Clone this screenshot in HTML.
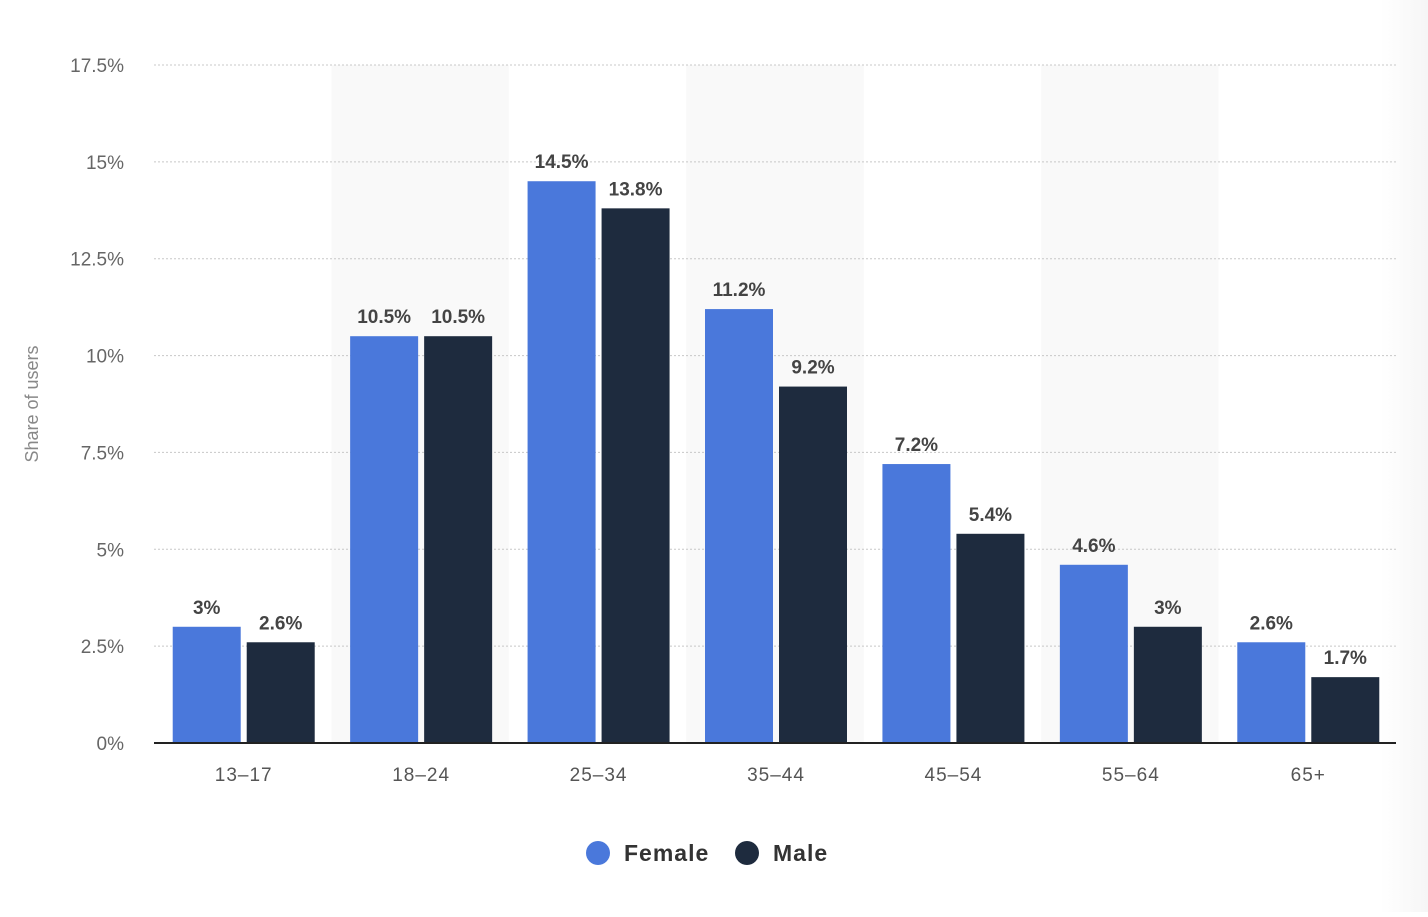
<!DOCTYPE html>
<html><head><meta charset="utf-8"><style>
body{margin:0;background:#fff;width:1428px;height:912px;overflow:hidden;font-family:"Liberation Sans",sans-serif}
</style></head><body>
<svg id="chart" width="1428" height="912" xmlns="http://www.w3.org/2000/svg">
<defs><linearGradient id="edge" x1="0" x2="1" y1="0" y2="0"><stop offset="0" stop-color="#fff"/><stop offset="1" stop-color="#f6f6f6"/></linearGradient></defs>
<rect x="1380" y="0" width="48" height="912" fill="url(#edge)"/>
<g id="bands"></g><g id="grid"></g><g id="bars"></g><g id="labels"></g><g id="axis"></g>
<text x="38" y="404" transform="rotate(-90 38 404)" text-anchor="middle" font-size="18" fill="#888">Share of users</text>
<g>
<circle cx="598" cy="853" r="12" fill="#4a78db"/>
<text x="624" y="861" font-size="23" font-weight="bold" fill="#333" letter-spacing="1">Female</text>
<circle cx="747" cy="853" r="12" fill="#1e2b3e"/>
<text x="773" y="861" font-size="23" font-weight="bold" fill="#333" letter-spacing="1">Male</text>
</g>
</svg>
<script>
const categories=["13-17","18-24","25-34","35-44","45-54","55-64","65+"];
const female=[3,10.5,14.5,11.2,7.2,4.6,2.6];
const male=[2.6,10.5,13.8,9.2,5.4,3,1.7];
const yTicks=[0,2.5,5,7.5,10,12.5,15,17.5];
const NS="http://www.w3.org/2000/svg";
const x0=154,x1=1396,y0=743,yTop=65,yMax=17.5;
const cw=(x1-x0)/categories.length;
const y=v=>y0-(v/yMax)*(y0-yTop);
const fmt=v=>String(v)+"%";
function mk(p,t,a){const e=document.createElementNS(NS,t);for(const k in a)e.setAttribute(k,a[k]);document.getElementById(p).appendChild(e);return e;}
categories.forEach((c,i)=>{if(i%2===1){const b=mk("bands","rect",{x:x0+i*cw,y:yTop,width:cw,height:y0-yTop,fill:"#f9f9f9"});

}});
yTicks.forEach(t=>{if(t>0){const l=mk("grid","line",{x1:x0,x2:x1,y1:y(t),y2:y(t),stroke:"#c8c8c8","stroke-dasharray":"2,2"});

}
const tx=mk("axis","text",{x:124,y:y(t)+7,"text-anchor":"end","font-size":"19",fill:"#666"});tx.textContent=fmt(t);

});
const ax=mk("axis","line",{x1:x0,x2:x1,y1:y0,y2:y0,stroke:"#222","stroke-width":2});


const bw=68,gap=6;
categories.forEach((c,i)=>{
const cx=x0+i*cw+cw/2+1;
[[female[i],"#4a78db",cx-gap/2-bw,"female"],[male[i],"#1e2b3e",cx+gap/2,"male"]].forEach(([v,col,bx,s])=>{
const r=mk("bars","rect",{x:bx,y:y(v),width:bw,height:y0-y(v),fill:col});


const t=mk("labels","text",{x:bx+bw/2,y:y(v)-13,"text-anchor":"middle","font-size":"19","font-weight":"bold",fill:"#444"});t.textContent=fmt(v);

});
const xl=mk("axis","text",{x:cx,y:781,"text-anchor":"middle","font-size":"19",fill:"#555","letter-spacing":"1"});xl.textContent=c.replace("-","–");

});
</script>
</body></html>
